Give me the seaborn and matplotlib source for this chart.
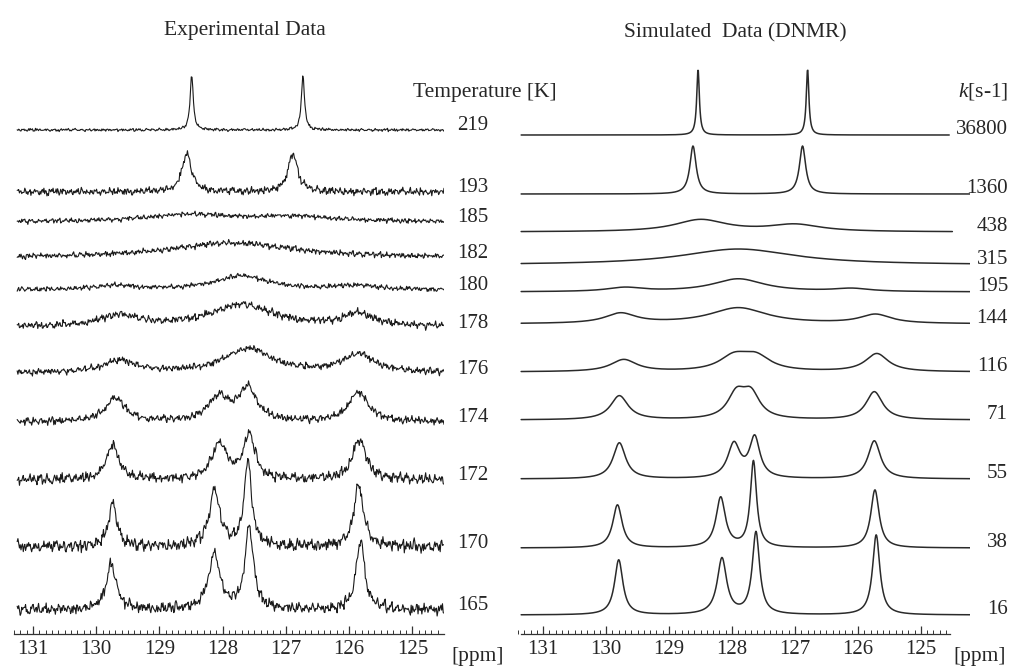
import seaborn as sns
import matplotlib.pyplot as plt
import pandas as pd
import numpy as np

# ---- data ----
# experimental spectra: temperature labels, baseline offsets, peaks (ppm, height, half width)
temps = ['219', '193', '185', '182', '180', '178', '176', '174', '172', '170', '165']
exp_offsets = [504, 442, 412, 376, 344, 307, 261, 212, 154, 87, 24]
exp_noise = [1.5, 4.0, 2.5, 3.0, 2.5, 4.0, 3.5, 4.0, 5.5, 6.5, 6.0]
exp_pos = [
    [128.49, 126.73],
    [128.57, 126.89],
    [128.55, 126.90],
    [127.85],
    [129.70, 127.70, 125.90],
    [129.63, 127.70, 125.85],
    [129.63, 127.60, 125.85],
    [129.70, 128.06, 127.60, 125.85],
    [129.74, 128.05, 127.58, 125.84],
    [129.74, 128.13, 127.60, 125.85],
    [129.76, 128.13, 127.58, 125.82],
]
exp_height = [
    [55, 54],
    [38, 38],
    [7, 5],
    [15],
    [4, 14, 4],
    [11, 22, 12],
    [12, 24, 18],
    [24, 24, 32, 30],
    [34, 36, 44, 40],
    [43, 56, 86, 62],
    [47, 54, 82, 70],
]
exp_width = [
    [0.03, 0.03],
    [0.09, 0.09],
    [0.8, 0.8],
    [1.2],
    [0.4, 0.5, 0.4],
    [0.35, 0.6, 0.3],
    [0.3, 0.45, 0.3],
    [0.18, 0.2, 0.17, 0.18],
    [0.12, 0.14, 0.11, 0.13],
    [0.08, 0.1, 0.07, 0.09],
    [0.09, 0.11, 0.08, 0.08],
]

# simulated spectra: rate constants, baseline offsets, peaks
rates = ['36800', '1360', '438', '315', '195', '144', '116', '71', '55', '38', '16']
sim_offsets = [499, 440, 402, 369, 342, 310, 262, 214, 155, 86, 19]
sim_end = [124.55, 124.2, 124.5, 124.2, 124.2, 124.2, 124.2, 124.2, 124.2, 124.2, 124.2]
sim_pos = [
    [128.54, 126.80],
    [128.62, 126.88],
    [128.50, 127.00],
    [127.90],
    [129.70, 127.90, 126.10],
    [129.77, 127.90, 125.72],
    [129.72, 127.97, 127.62, 125.70],
    [129.79, 127.93, 127.70, 125.74],
    [129.79, 127.97, 127.64, 125.74],
    [129.82, 128.18, 127.66, 125.73],
    [129.80, 128.16, 127.62, 125.71],
]
sim_height = [
    [66, 66],
    [48, 48],
    [12, 7],
    [16],
    [4, 13, 3],
    [10, 16, 9],
    [12, 14, 14, 18],
    [24, 24, 24, 28],
    [36, 34, 40, 38],
    [43, 50, 86, 58],
    [55, 56, 82, 80],
]
sim_width = [
    [0.025, 0.025],
    [0.06, 0.06],
    [0.5, 0.5],
    [1.1],
    [0.35, 0.5, 0.35],
    [0.3, 0.55, 0.3],
    [0.25, 0.28, 0.28, 0.22],
    [0.17, 0.17, 0.17, 0.16],
    [0.12, 0.12, 0.1, 0.12],
    [0.09, 0.09, 0.06, 0.08],
    [0.08, 0.09, 0.07, 0.07],
]

# fixed hand-typed jitter pattern for the experimental baselines
noise_a = [0.3, -0.8, 0.5, 0.9, -0.2, -0.7, 0.6, -0.4, 0.1, 0.8, -0.9, 0.2, 0.7, -0.5, -0.1,
           0.4, -0.6, 0.9, -0.3, 0.0, 0.6, -0.8, 0.3, -0.2, 0.7, -0.7, 0.5, 0.1, -0.9, 0.4,
           0.8, -0.3, -0.6, 0.2, 0.9, -0.1, -0.5, 0.6, -0.8, 0.3, 0.0, -0.4, 0.7, -0.6, 0.5,
           0.2, -0.9, 0.8, -0.2, 0.1, 0.6, -0.7, 0.4, -0.3, 0.9, -0.5, 0.2, -0.1, 0.7, -0.8, 0.3]
noise_b = [-0.5, 0.7, 0.2, -0.9, 0.4, 0.1, -0.3, 0.8, -0.6, 0.5, -0.1, 0.9, -0.7, 0.3, 0.6,
           -0.4, -0.8, 0.2, 0.7, -0.2, 0.4, -0.9, 0.1, 0.6, -0.5, 0.8, -0.3, 0.0, 0.5, -0.7,
           0.9, -0.1, -0.6, 0.3, 0.7, -0.8, 0.2, -0.4, 0.6, -0.2, 0.8, -0.5, 0.1, 0.4, -0.9,
           0.3, -0.6]
noise_c = [0.2, -0.4, 0.6, -0.1, -0.7, 0.5, 0.3, -0.6, 0.8, -0.2, 0.1, -0.5, 0.4, 0.7, -0.8,
           0.0, 0.5, -0.3, -0.9, 0.6, 0.2, -0.1, 0.7, -0.6, 0.3, 0.9, -0.4, -0.2, 0.6, -0.7,
           0.1, 0.4, -0.5, 0.8, -0.3, 0.2, -0.8]


def lorentz(x, pos, hgt, wid):
    y = np.zeros_like(x)
    for p, h, w in zip(pos, hgt, wid):
        y += h * w ** 2 / ((x - p) ** 2 + w ** 2)
    return y


def jitter(n, k):
    i = np.arange(n)
    a = np.array(noise_a)[(i + 7 * k) % len(noise_a)]
    b = np.array(noise_b)[(2 * i + 11 * k) % len(noise_b)]
    c = np.array(noise_c)[(i // 3 + 5 * k) % len(noise_c)]
    return 0.55 * a + 0.35 * b + 0.6 * c


# ---- build long tables ----
rows = []
x_exp = np.linspace(131.25, 124.5, 560)
for k, t in enumerate(temps):
    y = exp_offsets[k] + lorentz(x_exp, exp_pos[k], exp_height[k], exp_width[k])
    y = y + exp_noise[k] * jitter(len(x_exp), k)
    rows.append(pd.DataFrame({'ppm': x_exp, 'y': y, 'trace': t}))
df_exp = pd.concat(rows, ignore_index=True)

rows = []
for k, r in enumerate(rates):
    x_sim = np.linspace(131.35, sim_end[k], 900)
    y = sim_offsets[k] + lorentz(x_sim, sim_pos[k], sim_height[k], sim_width[k])
    rows.append(pd.DataFrame({'ppm': x_sim, 'y': y, 'trace': r}))
df_sim = pd.concat(rows, ignore_index=True)

# ---- figure ----
sns.set_theme(style='white')
plt.rcParams['font.family'] = ['Liberation Serif', 'DejaVu Serif']
plt.rcParams['mathtext.fontset'] = 'custom'
plt.rcParams['mathtext.it'] = 'Liberation Serif:italic'
plt.rcParams['mathtext.rm'] = 'Liberation Serif'

fig = plt.figure(figsize=(10.12, 6.69), dpi=100)
ax_l = fig.add_axes([14 / 1012, 35 / 669, 430 / 1012, 584 / 669])
ax_r = fig.add_axes([518 / 1012, 35 / 669, 452 / 1012, 584 / 669])

sns.lineplot(data=df_exp, x='ppm', y='y', units='trace', estimator=None, sort=False,
             color='#1a1a1a', lw=0.8, ax=ax_l)
sns.lineplot(data=df_sim, x='ppm', y='y', units='trace', estimator=None, sort=False,
             color='#2a2a2a', lw=1.1, ax=ax_r)

ax_l.set_xlim(131.25, 124.5)
ax_r.set_xlim(131.35, 124.22)
for ax in (ax_l, ax_r):
    ax.set_ylim(0, 584)
    ax.set_xlabel('')
    ax.set_ylabel('')
    ax.set_yticks([])
    ax.patch.set_alpha(0)
    for s in ('top', 'left', 'right'):
        ax.spines[s].set_visible(False)
    ax.spines['bottom'].set_color('#333333')
    ax.spines['bottom'].set_linewidth(0.9)
    ax.set_xticks(np.arange(125, 132, 1))
    ax.set_xticks(np.arange(124.6, 131.3, 0.1), minor=True)
    ax.set_xticklabels([str(v) for v in range(125, 132)])
    ax.tick_params(axis='x', which='major', direction='in', length=6, width=0.9,
                   color='#333333', labelsize=15, pad=4, bottom=True)
    ax.tick_params(axis='x', which='minor', direction='in', length=3, width=0.7,
                   color='#333333', bottom=True)
ax_r.spines['bottom'].set_bounds(131.36, 124.53)
ax_r.set_xticks(np.arange(124.6, 131.4, 0.1), minor=True)

# trace labels
for k, t in enumerate(temps):
    ax_l.text(1.067, exp_offsets[k] + 4, t, transform=ax_l.get_yaxis_transform(),
              ha='center', va='center', fontsize=15)
for k, r in enumerate(rates):
    ax_r.text(1.084, sim_offsets[k] + 1, r, transform=ax_r.get_yaxis_transform(),
              ha='right', va='baseline', fontsize=15)

fig.text(245 / 1012, 1 - 30 / 669, 'Experimental Data', ha='center', va='center', fontsize=15.5)
fig.text(735 / 1012, 1 - 33 / 669, 'Simulated  Data (DNMR)', ha='center', va='center', fontsize=15.5)
fig.text(485 / 1012, 1 - 92 / 669, 'Temperature [K]', ha='center', va='center', fontsize=15.5)
fig.text(1008 / 1012, 1 - 92 / 669, '$k$[s-1]', ha='right', va='center', fontsize=15.5)
fig.text(478 / 1012, 1 - 657 / 669, '[ppm]', ha='center', va='center', fontsize=15.5)
fig.text(980 / 1012, 1 - 657 / 669, '[ppm]', ha='center', va='center', fontsize=15.5)

fig.savefig('out.png', dpi=100, facecolor='white')
